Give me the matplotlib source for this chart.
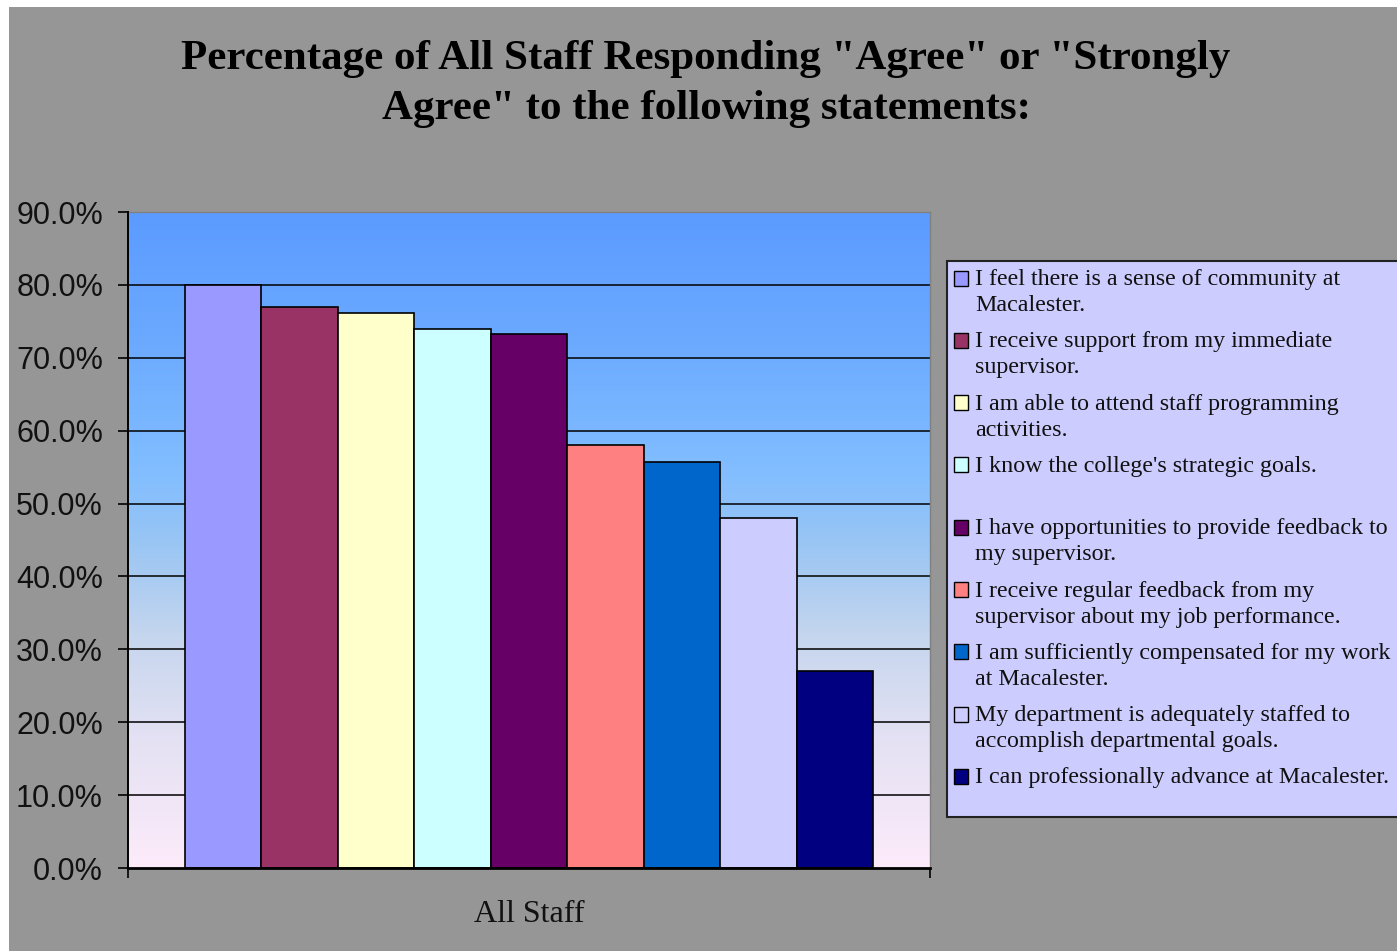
import matplotlib
matplotlib.use("Agg")
import matplotlib.pyplot as plt
import numpy as np
from matplotlib.colors import LinearSegmentedColormap
from matplotlib.patches import Rectangle

# ---- data ----
category = "All Staff"
statements = [
    "I feel there is a sense of community at\nMacalester.",
    "I receive support from my immediate\nsupervisor.",
    "I am able to attend staff programming\nactivities.",
    "I know the college's strategic goals.",
    "I have opportunities to provide feedback to\nmy supervisor.",
    "I receive regular feedback from my\nsupervisor about my job performance.",
    "I am sufficiently compensated for my work\nat Macalester.",
    "My department is adequately staffed to\naccomplish departmental goals.",
    "I can professionally advance at Macalester.",
]
percent_agree = [80.0, 77.0, 76.2, 74.0, 73.3, 58.0, 55.7, 48.0, 27.0]
bar_colors = ["#9999FF", "#993366", "#FFFFCC", "#CCFFFF", "#660066",
              "#FF8080", "#0066CC", "#CCCCFF", "#000080"]
y_ticks = [0, 10, 20, 30, 40, 50, 60, 70, 80, 90]
title = ('Percentage of All Staff Responding "Agree" or "Strongly\n'
         'Agree" to the following statements:')

W, H = 1397, 951
DPI = 100
fig = plt.figure(figsize=(W / DPI, H / DPI), dpi=DPI, facecolor="white")

def fx(px):
    return px / W

def fy(py):
    return 1 - py / H

# grey chart area
fig.patches.append(Rectangle((fx(9), 0), 1 - fx(9), fy(7), transform=fig.transFigure,
                             facecolor="#969696", edgecolor="none", zorder=-10))

ax = fig.add_axes([fx(128), fy(868), fx(930) - fx(128), fy(212) - fy(868)])
ax.set_xlim(-0.5, 0.5)
ax.set_ylim(0, 90)

# gradient plot-area background
grad = LinearSegmentedColormap.from_list("bg", [
    (0.0, "#FDEBFA"), (0.2, "#E3E1F3"), (0.35, "#C6D6EE"), (0.5, "#98C5F4"),
    (0.6, "#82BEFF"), (0.8, "#6CAAFF"), (1.0, "#5B9BFF")])
ax.imshow(np.linspace(0, 1, 256).reshape(-1, 1), cmap=grad, origin="lower",
          extent=(-0.5, 0.5, 0, 90), aspect="auto", zorder=0)

# horizontal gridlines
for t in y_ticks[1:-1]:
    ax.axhline(t, color="black", lw=1.1, zorder=1)

# bars
n = len(percent_agree)
group_w = 0.859
bw = group_w / n
xs = -group_w / 2 + bw / 2 + np.arange(n) * bw
ax.bar(xs, percent_agree, width=bw, color=bar_colors, edgecolor="black",
       linewidth=1.2, zorder=2)

# axes styling
for s in ["top", "right"]:
    ax.spines[s].set_color("#808080")
    ax.spines[s].set_linewidth(1.0)
ax.spines["left"].set_color("black")
ax.spines["bottom"].set_color("black")
ax.spines["left"].set_linewidth(1.4)
ax.spines["bottom"].set_linewidth(2.0)
ax.spines["left"].set_zorder(3)
ax.spines["bottom"].set_zorder(3)

ax.set_yticks(y_ticks)
ax.set_yticklabels([f"{t:.1f}%" for t in y_ticks], fontfamily="Liberation Sans",
                   fontsize=22, color="#111111")
ax.tick_params(axis="y", direction="out", length=7, width=1.2, pad=11, color="black")

ax.set_xticks([0])
ax.set_xticklabels([category], fontfamily="Liberation Serif", fontsize=23, color="#111111")
ax.tick_params(axis="x", which="major", length=0, pad=23)
ax.set_xticks([-0.5, 0.5], minor=True)
ax.tick_params(axis="x", which="minor", direction="out", length=7, width=1.2, color="black")

# title
fig.text(fx(706), fy(84), title, ha="center", va="center", fontfamily="Liberation Serif",
         fontweight="bold", fontsize=31, linespacing=1.4, color="black")

# legend drawn as a boxed list of statements
fig.patches.append(Rectangle((fx(947), fy(817)), fx(470), fy(261) - fy(817),
                             transform=fig.transFigure, facecolor="#CCCCFF",
                             edgecolor="#222222", linewidth=1.5, zorder=5))
entry_y0, entry_step, line_step = 278, 62.3, 26
for i, (label, col) in enumerate(zip(statements, bar_colors)):
    cy = entry_y0 + i * entry_step
    fig.patches.append(Rectangle((fx(954), fy(cy + 7.5)), fx(14), fy(cy - 7.5) - fy(cy + 7.5),
                                 transform=fig.transFigure, facecolor=col,
                                 edgecolor="black", linewidth=1.0, zorder=6))
    for k, line in enumerate(label.split("\n")):
        fig.text(fx(975), fy(cy + k * line_step + 7), line, ha="left", va="baseline",
                 fontfamily="Liberation Serif", fontsize=17.3, color="#111111", zorder=7)

fig.savefig("out.png", dpi=DPI, facecolor=fig.get_facecolor())
